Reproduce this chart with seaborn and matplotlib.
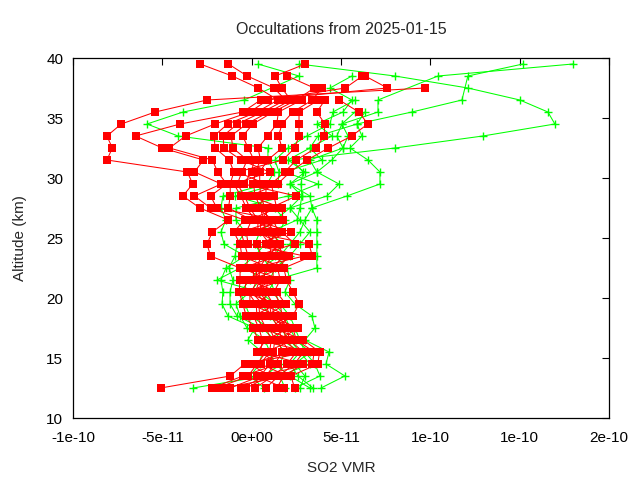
import numpy as np
import pandas as pd
import matplotlib
matplotlib.use("Agg")
import matplotlib.pyplot as plt
import seaborn as sns

nan = np.nan
SCALE = 1e-11  # values below are in units of 1e-11

altitudes = [12.5, 13.5, 14.5, 15.5, 16.5, 17.5, 18.5, 19.5, 20.5, 21.5,
             22.5, 23.5, 24.5, 25.5, 26.5, 27.5, 28.5, 29.5, 30.5, 31.5,
             32.5, 33.5, 34.5, 35.5, 36.5, 37.5, 38.5, 39.5]

red_profiles = [
    [-5.1, -1.2, -0.4, 3.2, 0.35, 0.1, -0.3, -0.5, -0.7, -0.65, -0.65, -2.3, -2.5, -2.2, -1.3, -2.9, -3.85, -3.3, -3.6, -8.1, -7.8, -8.1, -7.3, -5.4, -2.5, 9.7, nan, nan],
    [-2.2, -0.5, 1.5, 0.5, 0.6, 0.4, 0.1, 1.4, -0.4, -0.3, 1.0, -0.55, -0.65, -1.0, -0.4, -2.3, -3.2, -1.7, -3.2, -2.7, -5.0, -6.5, -4.0, -0.5, 0.5, 7.6, 6.35, nan],
    [-1.9, -0.2, 0.3, 0.8, 2.3, 0.6, 0.3, 0.25, -0.2, 1.8, -0.3, -0.2, -0.4, -0.6, 1.5, -1.95, -2.3, -1.4, -1.9, -2.2, -4.6, -3.7, -2.05, -0.1, 0.9, 5.24, 6.2, nan],
    [-1.6, 2.0, 0.5, 1.0, 1.1, 0.8, 0.45, 0.4, 1.0, 0.1, 0.1, 2.95, -0.2, -0.3, 0.0, -1.3, -1.2, -1.2, -1.0, -1.25, -2.05, -2.1, -1.35, 0.3, 1.47, 0.37, -1.09, -2.88],
    [-1.2, 0.5, 1.0, 1.2, 1.3, 1.0, 2.0, 0.6, 0.0, 0.3, 0.25, 0.55, 0.3, 2.2, 0.2, -0.3, -0.6, -1.0, 1.0, -0.6, -1.55, -1.6, -0.8, 0.6, 1.9, 1.25, -0.25, -1.3],
    [-0.6, 0.8, 1.3, 1.7, 1.5, 2.6, 1.0, 0.8, 0.2, 0.45, 0.4, 0.9, 1.6, 0.35, 0.35, -0.1, -0.4, -0.8, -0.55, -0.25, -1.05, -1.15, -0.3, 0.97, 2.2, 1.68, 1.32, 3.0],
    [-0.3, 1.0, -0.1, 2.1, 1.7, 1.5, 1.1, 1.0, 0.4, 0.7, 0.75, 1.1, 1.0, 0.5, 0.5, 1.05, 2.5, -0.45, 0.0, 0.13, -0.2, -0.5, 0.07, 1.2, 2.5, 3.5, 1.99, nan],
    [0.2, 1.2, 2.0, 2.5, 1.9, 1.8, 1.2, 1.2, 0.8, 0.9, -0.5, 1.4, 1.3, 0.75, 0.65, 0.5, 0.2, 0.1, 0.2, 0.5, 0.35, 0.9, 1.4, 1.5, 2.8, nan, nan, nan],
    [0.8, 1.5, 2.4, 2.9, 2.1, 2.0, 1.5, -0.1, -0.1, 1.2, 1.2, 1.75, 1.5, 1.2, 0.9, 0.75, 0.5, 0.45, 0.45, 0.9, 1.7, 1.5, 1.7, 2.3, 3.4, 3.92, nan, nan],
    [1.4, 1.8, 2.9, 0.3, 0.8, 2.1, 1.7, 1.6, 1.25, 1.6, 1.45, 2.1, 0.8, 1.5, 1.2, 0.3, 0.8, 0.8, -0.8, 1.75, 2.4, 2.65, 2.65, 2.65, 3.75, nan, nan, nan],
    [1.8, 0.3, 3.4, 3.5, 2.5, 2.3, 0.8, 1.9, 1.4, -0.1, 1.75, 0.2, 2.4, 1.7, -0.1, 1.4, 1.25, 1.1, 1.85, 2.5, 3.6, 4.05, 4.1, 3.65, 4.1, nan, nan, nan],
    [2.4, 2.2, 3.7, 3.8, 2.9, 1.2, 2.3, 2.65, 2.3, 1.95, 1.8, 3.4, 3.2, 0.0, 1.75, 1.7, -0.1, 1.45, 2.15, 3.1, 4.3, 5.6, 6.5, 6.0, 4.9, nan, nan, nan],
]

green_profiles = [
    [3.88, 5.22, 4.16, 4.33, 2.98, 3.54, 3.37, 2.42, 1.86, 2.14, 1.98, 1.30, 1.70, 1.02, 2.53, 2.70, 2.81, 2.76, 2.87, 2.26, 8.02, 12.94, 16.97, 16.58, 15.01, 12.10, 8.02, 2.65],
    [3.43, 2.59, 2.14, 2.70, 2.14, 1.58, 1.02, 0.58, 0.91, 1.30, 3.65, 3.65, 3.65, 3.65, 3.65, 3.37, 5.33, 7.18, 7.18, 6.51, 5.50, 6.17, 5.89, 8.97, 11.77, nan, 12.10, 15.18],
    [3.26, 2.14, 1.30, 1.02, 0.74, -0.26, -0.65, -0.88, -0.1, 0.46, 1.02, 0.58, 0.18, 0.46, 1.30, 2.14, 4.21, 4.89, 3.65, 4.49, 5.11, 5.39, 5.05, 7.07, 7.07, nan, 10.43, 17.98],
    [-3.28, 0.74, 1.58, 1.86, 1.30, 0.58, -0.82, -1.21, -1.21, -1.05, -1.27, -0.93, -0.82, -0.37, -0.88, -0.88, 2.03, 3.71, 1.86, 3.93, 3.26, 4.49, 3.65, 5.11, 5.61, 4.38, 5.61, nan],
    [0.69, -0.1, 0.46, 0.58, -0.21, 0.18, -1.33, -1.66, -1.61, -1.72, -1.44, -0.37, -1.55, -1.72, -1.44, -1.72, -1.61, 0.86, 1.25, 0.91, 0.91, -4.12, -5.86, -3.84, -0.43, nan, 2.65, 0.35],
    [2.70, 2.98, 2.42, 3.26, 2.48, 2.14, 1.86, 1.30, 0.46, -1.94, -0.65, 0.18, 0.74, 1.58, 1.86, 1.30, -0.93, 1.47, 1.53, 1.30, 2.03, 3.09, 4.38, 4.55, 5.78, nan, nan, nan],
    [1.86, 1.58, 3.26, 2.70, 1.70, 1.02, -0.1, -0.37, -0.65, -0.1, 0.46, 1.58, 2.14, 2.70, 2.98, 3.37, 3.26, 2.14, 3.65, 3.26, 5.11, 4.77, 5.05, 5.78, nan, nan, nan, nan],
    [2.42, 3.82, 3.54, 2.98, 2.70, 2.42, 2.14, 1.58, 1.30, 1.02, 1.30, 2.14, 2.70, 3.26, 2.70, 2.14, 2.81, 2.14, 2.98, 2.03, 3.26, 3.71, 5.89, 6.34, nan, nan, nan, nan],
]

x_ticks = [-1e-10, -5e-11, 0.0, 5e-11, 1e-10, 1.5e-10, 2e-10]
x_tick_labels = ["-1e-10", "-5e-11", "0e+00", "5e-11", "1e-10", "1e-10", "2e-10"]
y_ticks = [10, 15, 20, 25, 30, 35, 40]
title = "Occultations from 2025-01-15"


def long_form(profiles):
    rows = []
    for i, prof in enumerate(profiles):
        for a, v in zip(altitudes, prof):
            rows.append({"profile": i, "alt": a, "vmr": v * SCALE})
    return pd.DataFrame(rows).dropna()


df_red = long_form(red_profiles)
df_green = long_form(green_profiles)

sns.set_style("white")
plt.rcParams["font.family"] = ["Liberation Sans", "DejaVu Sans"]

fig = plt.figure(figsize=(6.4, 4.8), dpi=100)
ax = fig.add_axes([73 / 640, 1 - 418 / 480, (609 - 73) / 640, (418 - 58) / 480])

sns.lineplot(data=df_green, x="vmr", y="alt", units="profile", estimator=None,
             sort=False, color="#00ff00", linewidth=0.75, marker="+",
             markersize=5.2, markeredgewidth=1.0, markeredgecolor="#00ff00",
             ax=ax, legend=False)
sns.lineplot(data=df_red, x="vmr", y="alt", units="profile", estimator=None,
             sort=False, color="#ff0000", linewidth=0.75, marker="s",
             markersize=5.2, markeredgewidth=0, markeredgecolor="#ff0000",
             ax=ax, legend=False)

ax.set_xlim(-1e-10, 2e-10)
ax.set_ylim(10, 40)
ax.set_xticks(x_ticks)
ax.set_xticklabels(x_tick_labels)
ax.set_yticks(y_ticks)
ax.tick_params(direction="in", length=5, width=0.8, top=True, right=True,
               labelsize=11, colors="black")
ax.tick_params(axis="x", pad=9)
ax.tick_params(axis="y", pad=7)
for s in ax.spines.values():
    s.set_visible(True)
    s.set_color("black")
    s.set_linewidth(0.9)
ax.grid(False)
ax.set_xlabel("SO2 VMR", fontsize=11, labelpad=12)
ax.set_ylabel("Altitude (km)", fontsize=11, labelpad=14)
ax.set_title(title, fontsize=11.5, pad=17)

fig.savefig("out.png", dpi=100)
